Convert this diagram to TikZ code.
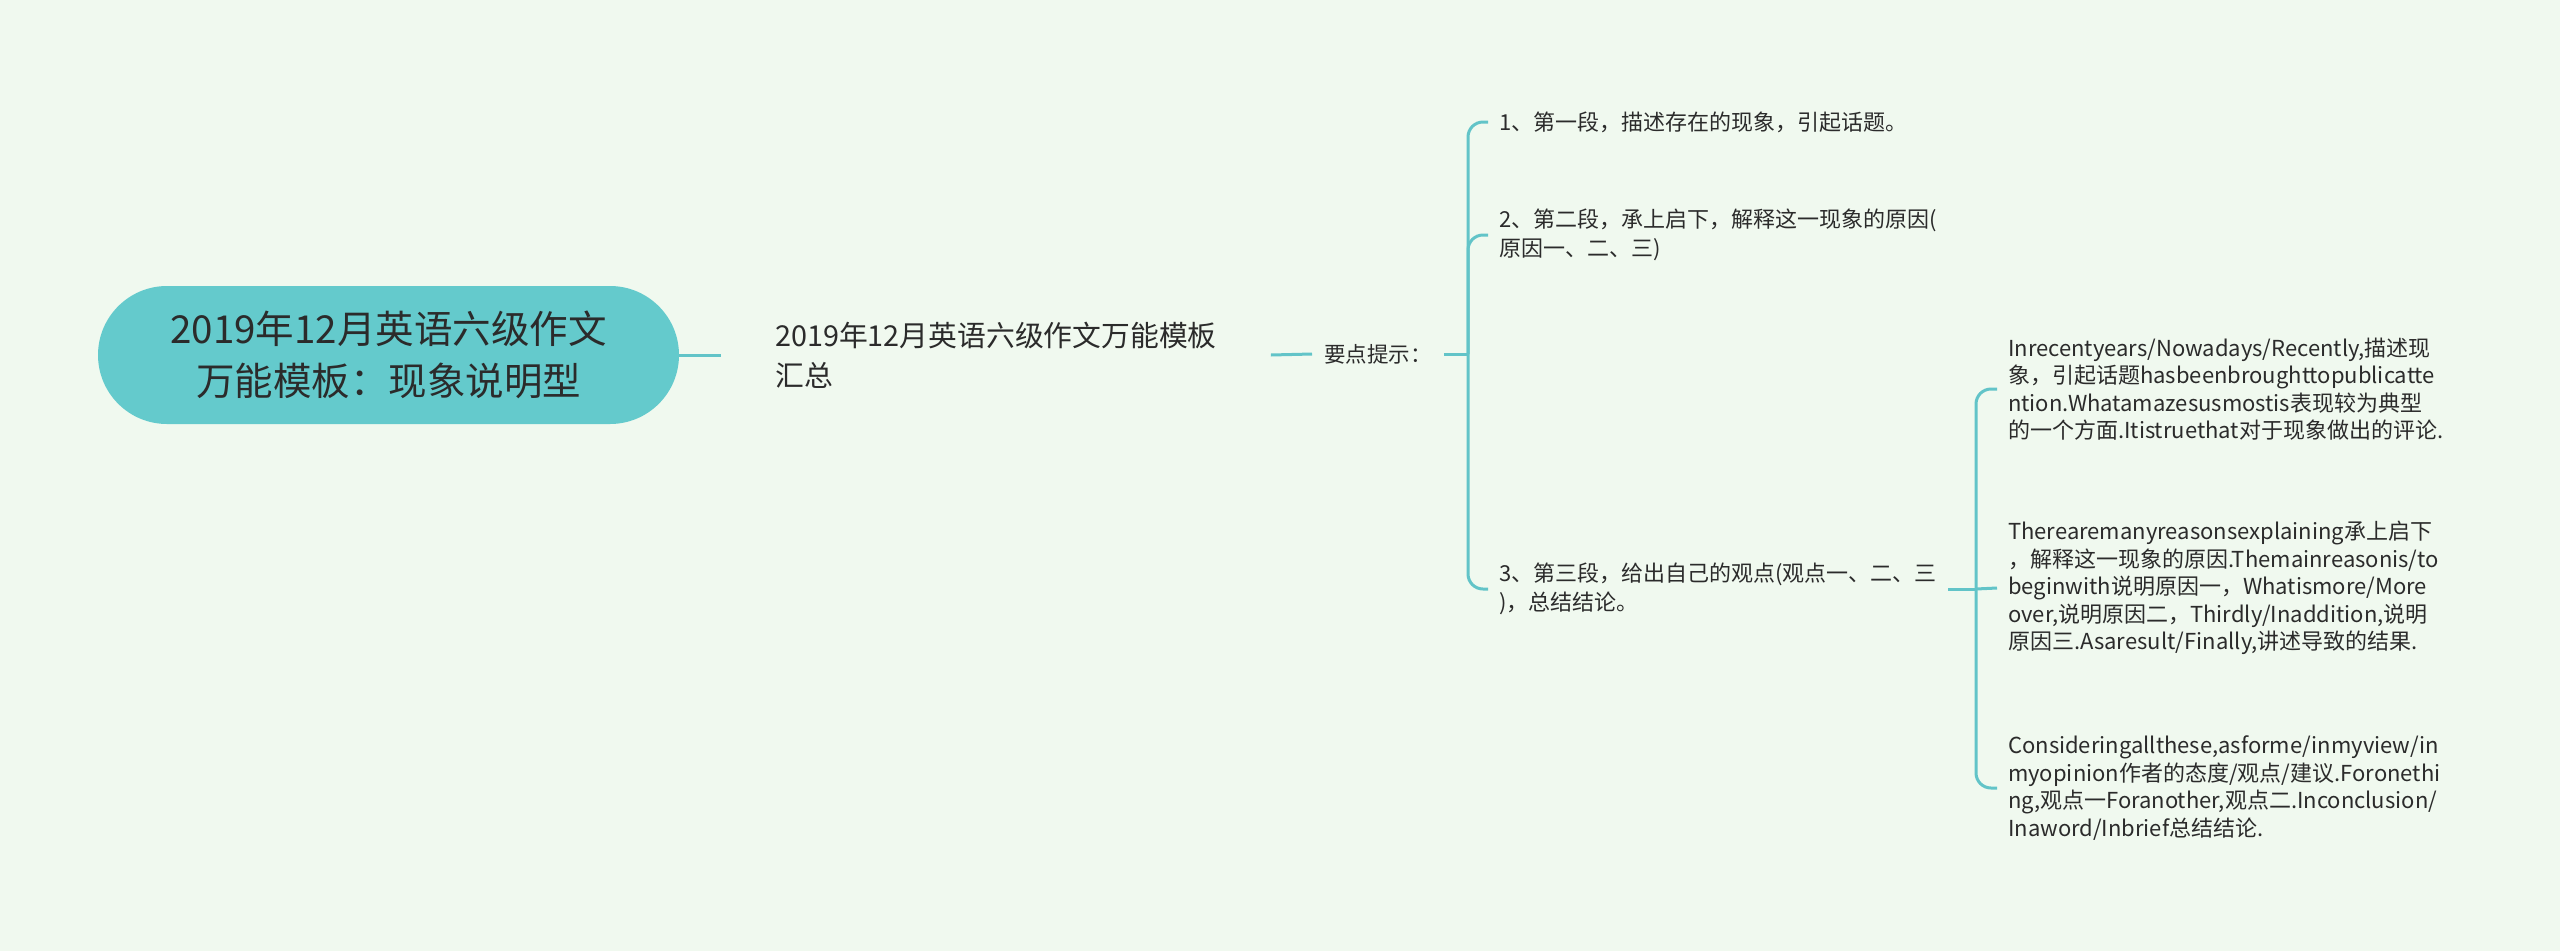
\documentclass[tikz,border=0pt]{standalone}
\usepackage{fontspec}
\setmainfont{Noto Sans CJK SC}
\definecolor{bgc}{HTML}{F0F9EF}
\definecolor{pill}{HTML}{64CACC}
\definecolor{lnc}{HTML}{62C4C8}
\definecolor{txc}{HTML}{2B2B2B}
\begin{document}
\begin{tikzpicture}[x=1pt,y=1pt,
  conn/.style={draw=lnc,line width=3pt},
  rootbox/.style={fill=pill,rounded corners=69pt,minimum width=581pt,minimum height=138pt,text=txc,font=\fontsize{38.5}{52}\selectfont,align=center,inner sep=0pt},
  subbox/.style={anchor=west,inner xsep=54pt,inner ysep=0pt,align=left,text=txc,font=\fontsize{28.8}{40}\selectfont},
  kpbox/.style={anchor=west,inner xsep=12pt,inner ysep=0pt,text=txc,font=\fontsize{21.5}{29}\selectfont},
  itembox/.style={anchor=west,inner xsep=11pt,inner ysep=0pt,align=left,text=txc,font=\fontsize{22}{29.5}\selectfont},
  childbox/.style={anchor=west,inner xsep=11pt,inner ysep=0pt,align=left,text=txc,font=\fontsize{22}{27.5}\selectfont}]
\fill[bgc] (0,0) rectangle (2560,-951);
\useasboundingbox (0,0) rectangle (2560,-951);

\node[rootbox] (root) at (388.5,-355) {2019年12月英语六级作文\\万能模板：现象说明型};
\node[subbox] (n2) at (721,-355) {2019年12月英语六级作文万能模板\\汇总};
\node[kpbox] (kp) at (1312,-354) {要点提示：};
\node[itembox] (i1) at (1488,-122) {1、第一段，描述存在的现象，引起话题。};
\node[itembox] (i2) at (1488,-235) {2、第二段，承上启下，解释这一现象的原因(\\原因一、二、三)};
\node[itembox] (i3) at (1488,-589) {3、第三段，给出自己的观点(观点一、二、三\\)，总结结论。};
\node[childbox] (c1) at (1997,-389) {Inrecentyears/Nowadays/Recently,描述现\\象，引起话题hasbeenbroughttopublicatte\\ntion.Whatamazesusmostis表现较为典型\\的一个方面.Itistruethat对于现象做出的评论.};
\node[childbox] (c2) at (1997,-588) {Therearemanyreasonsexplaining承上启下\\，解释这一现象的原因.Themainreasonis/to\\beginwith说明原因一，Whatismore/More\\over,说明原因二，Thirdly/Inaddition,说明\\原因三.Asaresult/Finally,讲述导致的结果.};
\node[childbox] (c3) at (1997,-788) {Consideringallthese,asforme/inmyview/in\\myopinion作者的态度/观点/建议.Foronethi\\ng,观点一Foranother,观点二.Inconclusion/\\Inaword/Inbrief总结结论.};

\coordinate (b1) at (1468,-354);
\coordinate (b2) at (1976,-589);

\draw[conn] (root.east) -- (n2.west);
\draw[conn] (n2.east) -- (kp.west);
\draw[conn] (kp.east) -- (b1);
\draw[conn,rounded corners=15pt] (b1) |- (i1.west);
\draw[conn,rounded corners=15pt] (b1) |- (i2.west);
\draw[conn,rounded corners=15pt] (b1) |- (i3.west);
\draw[conn] (i3.east) -- (b2);
\draw[conn,rounded corners=15pt] (b2) |- (c1.west);
\draw[conn] (b2) -- (c2.west);
\draw[conn,rounded corners=15pt] (b2) |- (c3.west);
\end{tikzpicture}
\end{document}
